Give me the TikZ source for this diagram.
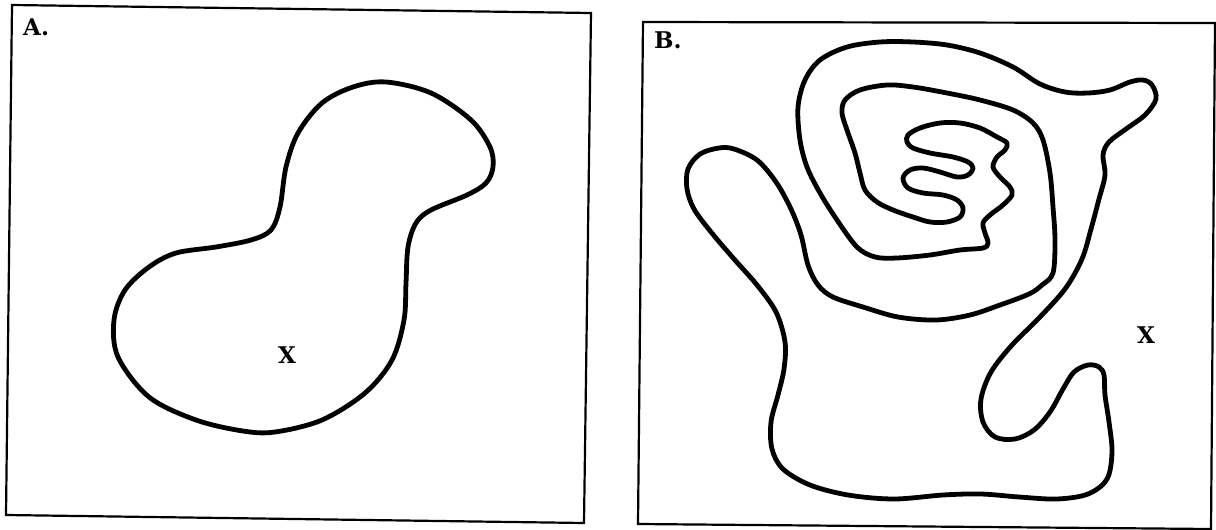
\documentclass[tikz,border=0pt]{standalone}
\usepackage{fontspec}
\setmainfont{DejaVu Serif}
\begin{document}
\begin{tikzpicture}[x=1pt,y=-1pt,
  frame/.style={draw=black,line width=2.2pt,line join=miter},
  blob/.style={draw=black,line width=4.8pt,line join=round},
  lbl/.style={font=\fontsize{23}{27}\selectfont\bfseries,inner sep=0pt}]
\useasboundingbox (0,0) rectangle (1216,530);
% Panel A
\draw[frame] (12,5) -- (591,13) -- (584,523) -- (6,515) -- cycle;
\node[lbl,anchor=base west] (labA) at (23,35) {A.};
\draw[blob] plot[smooth cycle,tension=0.55] coordinates {
(386,82) (431,93) (471,120) (490,147) (493,167) (486,183) (467,195) (431,210)
(416,223) (408,247) (406,283) (404,320) (392,360) (365,393) (322,420) (275,432)
(243,431) (196,420) (149,397) (118,357) (114,320) (125,290) (149,267) (176,253)
(216,247) (251,240) (271,230) (280,207) (286,167) (298,133) (322,103) (353,87)};
\node[lbl] (xA) at (287,355) {X};
% Panel B
\draw[frame] (643,22) -- (1215,23) -- (1211,529) -- (638,524) -- cycle;
\node[lbl,anchor=base west] (labB) at (654,48) {B.};
\draw[blob] plot[smooth cycle,tension=0.55] coordinates {
(719,148) (700,154) (688,169) (687,189) (694,209) (711,232) (734,259) (757,285)
(776,312) (785,342) (784,369) (778,395) (771,422) (772,449) (783,469) (810,485)
(848,495) (894,499) (943,495) (981,494) (1019,497) (1057,499) (1088,494) (1107,479)
(1112,452) (1109,422) (1105,395) (1104,375) (1099,367) (1088,365) (1074,372) (1063,389)
(1050,412) (1034,430) (1015,439) (995,437) (983,422) (981,399) (991,372) (1012,345)
(1038,319) (1065,289) (1082,259) (1091,229) (1099,199) (1105,175) (1103,155) (1109,142)
(1126,129) (1145,115) (1156,99) (1152,85) (1143,80) (1130,82) (1110,90) (1088,93)
(1065,92) (1040,84) (1013,67) (980,53) (947,45) (913,42) (880,42) (847,47)
(820,60) (805,80) (798,107) (800,140) (807,167) (820,193) (837,220) (857,247)
(875,257) (897,258) (930,255) (960,250) (983,248) (988,243) (985,233) (983,223)
(990,215) (1003,205) (1012,195) (1010,187) (1000,177) (993,167) (997,157) (1005,150)
(1007,143) (997,137) (980,128) (960,123) (940,123) (920,128) (908,135) (907,142)
(913,148) (930,153) (953,157) (968,162) (973,168) (968,175) (957,177) (940,172)
(923,168) (910,170) (903,178) (908,188) (923,193) (943,195) (957,200) (963,208)
(960,217) (947,222) (930,222) (913,217) (893,210) (877,202) (865,190) (860,173)
(855,153) (847,130) (842,113) (845,100) (860,90) (887,85) (913,87) (947,93)
(980,100) (1013,110) (1033,123) (1043,140) (1050,173) (1053,207) (1055,240) (1053,273)
(1042,285) (1029,294) (1000,305) (970,315) (936,320) (898,317) (863,307) (833,297)
(818,285) (808,265) (801,235) (791,209) (776,182) (757,160) (734,149)};
\node[lbl] (xB) at (1146,335) {X};
\end{tikzpicture}
\end{document}
